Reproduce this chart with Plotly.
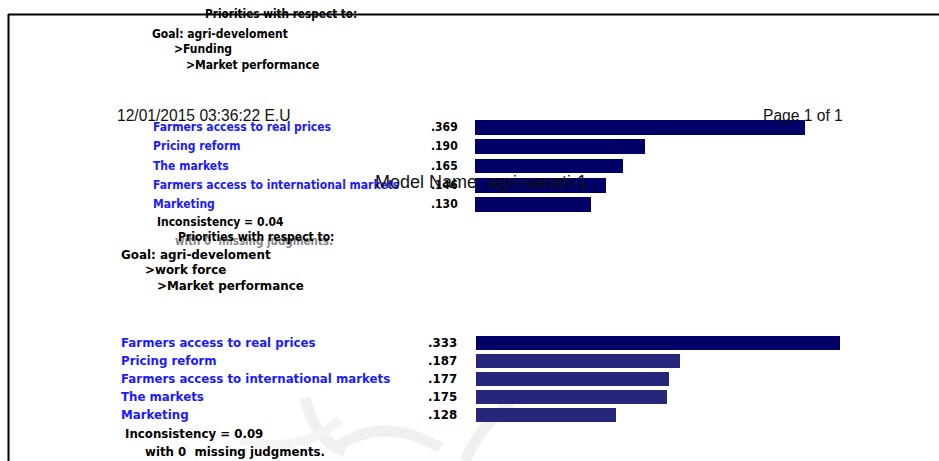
import plotly.graph_objects as go

W, H = 939, 461

# ---- data ----
top_labels = ["Farmers access to real prices", "Pricing reform", "The markets",
              "Farmers access to international markets", "Marketing"]
top_values = [0.369, 0.190, 0.165, 0.146, 0.130]
top_colors = ["#000066"] * 5

bot_labels = ["Farmers access to real prices", "Pricing reform",
              "Farmers access to international markets", "The markets", "Marketing"]
bot_values = [0.333, 0.187, 0.177, 0.175, 0.128]
bot_colors = ["#000066", "#26267a", "#26267a", "#26267a", "#26267a"]

top_header = ["Priorities with respect to:", "Goal: agri-develoment", ">Funding", ">Market performance"]
bot_header = ["Priorities with respect to:", "Goal: agri-develoment", ">work force", ">Market performance"]
top_inconsistency = "Inconsistency = 0.04"
bot_inconsistency = "Inconsistency = 0.09"
missing_text = "with 0  missing judgments."
date_text = "12/01/2015 03:36:22 E.U"
page_text = "Page 1 of 1"
model_text = "Model Name: agri-sanati-1"


def px(x):
    return x / W


def py(y):
    return 1 - y / H


fig = go.Figure()

fig.add_trace(go.Bar(
    x=top_values, y=list(range(len(top_values))), orientation="h",
    marker=dict(color=top_colors, line=dict(width=0)), width=0.77,
    xaxis="x", yaxis="y", hoverinfo="skip", showlegend=False))
fig.add_trace(go.Bar(
    x=bot_values, y=list(range(len(bot_values))), orientation="h",
    marker=dict(color=bot_colors, line=dict(width=0)), width=0.78,
    xaxis="x2", yaxis="y2", hoverinfo="skip", showlegend=False))

axis_off = dict(showgrid=False, zeroline=False, showticklabels=False, showline=False, ticks="")

fig.update_layout(
    width=W, height=H, margin=dict(l=0, r=0, t=0, b=0),
    paper_bgcolor="white", plot_bgcolor="rgba(0,0,0,0)",
    xaxis=dict(domain=[px(475), 1], range=[0, (W - 475) / 894.0], **axis_off),
    yaxis=dict(domain=[py(213.7), py(117.7)], range=[4.5, -0.5], **axis_off),
    xaxis2=dict(domain=[px(476), 1], range=[0, (W - 476) / 1093.0], anchor="y2", **axis_off),
    yaxis2=dict(domain=[py(424), py(334)], range=[4.5, -0.5], anchor="x2", **axis_off),
    bargap=0,
)

ann = []

cond = "'DejaVu Sans Condensed', 'DejaVu Sans', sans-serif"
wide = "'DejaVu Sans', Verdana, sans-serif"
arial = "'Liberation Sans', Arial, sans-serif"


def text(x, y, s, size=12, color="black", bold=True, family=cond, anchor="left"):
    t = f"<b>{s}</b>" if bold else s
    xx = x - 2 if anchor == "left" else x + 2
    ann.append(dict(x=px(xx), y=py(y), xref="paper", yref="paper", text=t, showarrow=False,
                    xanchor=anchor, yanchor="middle", font=dict(size=size, color=color, family=family)))


# top header
text(205, 14, top_header[0], size=11.7, family=cond)
text(152, 34, top_header[1], size=12, family=cond)
text(174, 49, top_header[2], size=12, family=cond)
text(186, 65, top_header[3], size=12, family=cond)

# top rows
top_y = [127, 146, 166, 185, 204]
for lab, v, y in zip(top_labels, top_values, top_y):
    text(153, y, lab, size=12, color="#1a1aff", family=cond)
    text(458, y, ("%.3f" % v)[1:], size=12, family=cond, anchor="right")
text(157, 222, top_inconsistency, size=12, family=cond)
text(175, 241, missing_text, size=11.5, color="#888888", family=cond)

# bottom header (overlapping)
text(178, 237, bot_header[0], size=12, family=cond)
text(121, 255, bot_header[1], size=11.9, family=wide)
text(145, 270, bot_header[2], size=11.9, family=wide)
text(157, 286, bot_header[3], size=11.9, family=wide)

bot_y = [343, 361, 379, 397, 415]
for lab, v, y in zip(bot_labels, bot_values, bot_y):
    text(121, y, lab, size=11.8, color="#1a1aff", family=wide)
    text(457, y, ("%.3f" % v)[1:], size=11.8, family=wide, anchor="right")
text(125, 434, bot_inconsistency, size=11.8, family=wide)
text(145, 452, missing_text, size=11.8, family=wide)

# page texts
text(117, 116, date_text, size=15.6, bold=False, color="#111111", family=arial)
text(763, 116, page_text, size=15.6, bold=False, color="#111111", family=arial)
text(375, 182, model_text, size=18, bold=False, color="#111111", family=arial)

fig.update_layout(annotations=ann)


def pth(points):
    d = "M %f,%f" % (px(points[0][0]), py(points[0][1]))
    for i in range(1, len(points) - 1, 2):
        d += " Q %f,%f %f,%f" % (px(points[i][0]), py(points[i][1]),
                                 px(points[i + 1][0]), py(points[i + 1][1]))
    return d


# faint watermark strokes
wm = dict(color="#f0f0f0", width=11)
fig.add_shape(type="path", xref="paper", yref="paper", layer="below", line=wm,
              path=pth([(305, 398), (315, 440), (345, 452)]))
fig.add_shape(type="path", xref="paper", yref="paper", layer="below", line=wm,
              path=pth([(338, 446), (385, 415), (440, 448)]))
fig.add_shape(type="path", xref="paper", yref="paper", layer="below", line=wm,
              path=pth([(518, 396), (480, 425), (465, 461)]))
fig.add_shape(type="path", xref="paper", yref="paper", layer="below", line=dict(color="#f4f4f4", width=9),
              path=pth([(240, 440), (300, 455), (340, 420)]))

# frame lines
fig.add_shape(type="line", xref="paper", yref="paper", x0=px(8), x1=1, y0=py(14.5), y1=py(14.5),
              line=dict(color="black", width=2))
fig.add_shape(type="line", xref="paper", yref="paper", x0=px(8.5), x1=px(8.5), y0=py(14), y1=0,
              line=dict(color="black", width=2))

fig.write_html("out.html", config={"displayModeBar": False},
               post_script="document.body.style.margin='0';document.body.style.overflow='hidden';")
